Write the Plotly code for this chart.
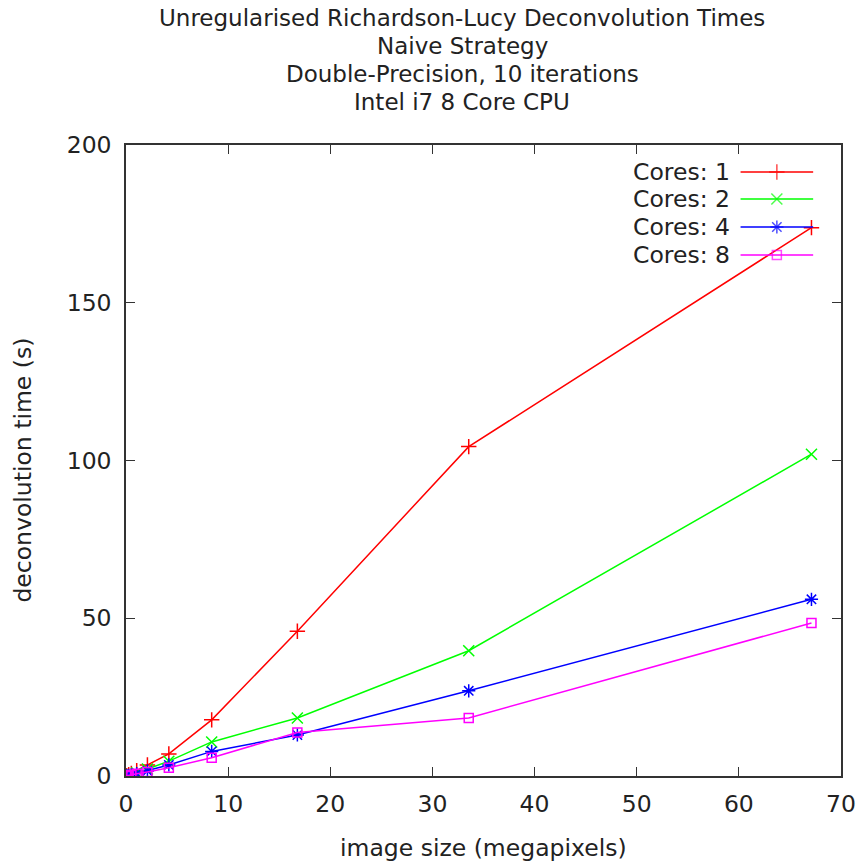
import plotly.graph_objects as go

# image sizes (megapixels): square images from 128^2 up to 8192^2
megapixels = [0.016, 0.066, 0.262, 0.524, 1.049, 2.097, 4.194, 8.389, 16.777, 33.554, 67.109]

# deconvolution times (seconds) per core count
time_cores_1 = [0.02, 0.1, 0.4, 0.8, 1.7, 3.5, 7.0, 17.8, 45.9, 104.4, 173.8]
time_cores_2 = [0.02, 0.06, 0.25, 0.5, 1.0, 2.2, 4.7, 10.8, 18.4, 39.7, 102.0]
time_cores_4 = [0.01, 0.05, 0.2, 0.4, 0.8, 1.6, 3.5, 7.8, 13.0, 27.0, 56.0]
time_cores_8 = [0.01, 0.05, 0.15, 0.35, 0.7, 1.3, 2.6, 5.8, 13.8, 18.4, 48.5]

series_names = ["Cores: 1", "Cores: 2", "Cores: 4", "Cores: 8"]
series_values = [time_cores_1, time_cores_2, time_cores_4, time_cores_8]
colors = ["#ff0000", "#00ff00", "#0000ff", "#ff00ff"]
symbols = ["cross-thin-open", "x-thin-open", "asterisk-open", "square-open"]
marker_sizes = [11, 11, 11, 9]

x_ticks = [0, 10, 20, 30, 40, 50, 60, 70]
y_ticks = [0, 50, 100, 150, 200]

title_lines = [
    "Unregularised Richardson-Lucy Deconvolution Times",
    "Naive Strategy",
    "Double-Precision, 10 iterations",
    "Intel i7 8 Core CPU",
]

FONT = "DejaVu Sans"
TEXT = "#222222"
W, H = 868, 862
ML, MR, MT, MB = 126, 23, 145, 86
PLOT_H = H - MT - MB
PLOT_W = W - ML - MR


def py(pix):
    """Paper y-coordinate for a pixel row measured from the top."""
    return (H - MB - pix) / PLOT_H


def px(pix):
    """Paper x-coordinate for a pixel column measured from the left."""
    return (pix - ML) / PLOT_W


fig = go.Figure()

for name, vals, col, sym, ms in zip(series_names, series_values, colors, symbols, marker_sizes):
    fig.add_trace(go.Scatter(
        x=megapixels, y=vals, name=name, mode="lines+markers",
        line=dict(color=col, width=1.5),
        marker=dict(symbol=sym, size=ms, color=col, line=dict(color=col, width=1.5)),
        showlegend=False,
    ))

# key: right-aligned labels followed by a line sample with its point symbol
key_rows = [py(172), py(199), py(227), py(255)]
sample_x = [px(744), px(817)]
for name, col, sym, ms, ky in zip(series_names, colors, symbols, marker_sizes, key_rows):
    fig.add_trace(go.Scatter(
        x=[sample_x[0], (sample_x[0] + sample_x[1]) / 2, sample_x[1]], y=[ky, ky, ky],
        mode="lines+markers", xaxis="x2", yaxis="y2",
        line=dict(color=col, width=1.5),
        marker=dict(symbol=sym, size=[0, ms, 0], color=col, line=dict(color=col, width=1.5)),
        showlegend=False, hoverinfo="skip",
    ))
    fig.add_annotation(
        xref="x2", yref="y2", x=px(735), y=ky, text=name, showarrow=False,
        xanchor="right", yanchor="middle", font=dict(family=FONT, size=23.5, color=TEXT),
    )

# multi-line title
for line, pix in zip(title_lines, [18, 46, 74, 102]):
    fig.add_annotation(
        xref="paper", yref="paper", x=px(464), y=py(pix), text=line, showarrow=False,
        xanchor="center", yanchor="middle", font=dict(family=FONT, size=23, color=TEXT),
    )

# axis titles
fig.add_annotation(
    xref="paper", yref="paper", x=px(486), y=py(848), text="image size (megapixels)",
    showarrow=False, xanchor="center", yanchor="middle",
    font=dict(family=FONT, size=23.5, color=TEXT),
)
fig.add_annotation(
    xref="paper", yref="paper", x=px(22), y=py(470), text="deconvolution time (s)",
    showarrow=False, xanchor="center", yanchor="middle", textangle=-90,
    font=dict(family=FONT, size=23.5, color=TEXT),
)

axis_common = dict(
    showgrid=False, zeroline=False, showline=True, linecolor="#333333", linewidth=1.5,
    mirror="allticks", ticks="inside", ticklen=9, tickwidth=1.2, tickcolor="#333333",
    tickfont=dict(family=FONT, size=23.5, color=TEXT),
)

fig.update_layout(
    width=W, height=H,
    margin=dict(l=ML, r=MR, t=MT, b=MB),
    paper_bgcolor="white", plot_bgcolor="white",
    xaxis=dict(
        range=[0, 70], tickvals=x_ticks, ticktext=[str(v) for v in x_ticks],
        ticklabelstandoff=6, **axis_common,
    ),
    yaxis=dict(
        range=[0, 200], tickvals=y_ticks, ticktext=[str(v) for v in y_ticks],
        ticklabelstandoff=8, **axis_common,
    ),
    xaxis2=dict(overlaying="x", range=[0, 1], visible=False, fixedrange=True),
    yaxis2=dict(overlaying="y", range=[0, 1], visible=False, fixedrange=True),
)

fig.write_html("out.html")
